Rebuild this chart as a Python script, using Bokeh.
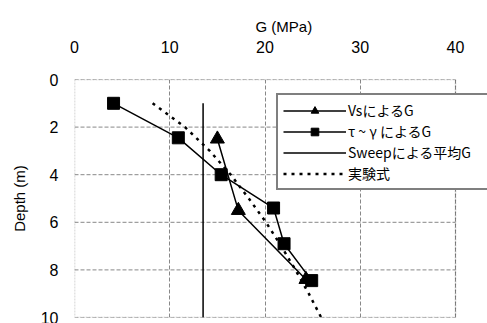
from bokeh.plotting import figure
from bokeh.models import Range1d, Legend, LegendItem, FixedTicker, BoxAnnotation
from bokeh.embed import file_html
from bokeh.resources import INLINE

# Vs-based G
vs_depth = [2.5, 5.5, 8.4]
vs_g = [15.0, 17.2, 24.3]
# tau~gamma based G
tg_depth = [1.0, 2.45, 4.0, 5.4, 6.9, 8.45]
tg_g = [4.1, 10.9, 15.4, 20.9, 22.0, 24.9]
# Sweep mean G
sw_depth = [1.0, 10.0]
sw_g = [13.5, 13.5]
# empirical formula
ex_depth = [1, 2, 3, 4, 5, 6, 7, 8, 9, 10]
ex_g = [8.2, 11.6, 14.2, 16.4, 18.3, 20.1, 21.7, 23.2, 24.6, 25.9]

x_ticks = [0, 10, 20, 30, 40]
y_ticks = [0, 2, 4, 6, 8, 10]

# plot area spans to the window edge so the legend can overhang the 0-40 box
FRAME_W = 413
BOX_W = 381
x_end = x_ticks[-1] * FRAME_W / BOX_W

p = figure(width=487, height=323, output_backend="svg", toolbar_location=None,
           x_range=Range1d(x_ticks[0], x_end), y_range=Range1d(y_ticks[-1], y_ticks[0]),
           x_axis_location="above", min_border_left=74, min_border_top=79,
           min_border_right=0, min_border_bottom=6)
p.background_fill_color = "white"
p.border_fill_color = "white"
p.outline_line_color = None

p.title.text = "G (MPa)"
p.title.align = "left"
p.title.offset = 181
p.title.text_font = "Liberation Sans"
p.title.text_font_size = "15px"
p.title.text_font_style = "normal"
p.title.text_color = "black"
p.title.standoff = 6

for ax in (p.xaxis[0], p.yaxis[0]):
    ax.axis_line_color = None
    ax.major_tick_line_color = None
    ax.minor_tick_line_color = None
    ax.major_label_text_font = "Liberation Sans"
    ax.major_label_text_font_size = "16px"
    ax.major_label_text_color = "black"
    ax.axis_label_text_font = "Liberation Sans"
    ax.axis_label_text_font_size = "15px"
    ax.axis_label_text_font_style = "normal"
    ax.axis_label_text_color = "black"
p.xaxis.ticker = FixedTicker(ticks=x_ticks)
p.yaxis.ticker = FixedTicker(ticks=y_ticks)
p.yaxis.axis_label = "Depth (m)"
p.xaxis.major_label_standoff = 21
p.yaxis.major_label_standoff = 10
p.yaxis.axis_label_standoff = 10

p.xgrid.grid_line_color = "#888888"
p.xgrid.grid_line_dash = "4 2"
p.xgrid.grid_line_width = 1
p.ygrid.grid_line_color = None

# horizontal grid lines limited to the 0-40 box
p.segment(x0=[x_ticks[0]] * len(y_ticks), x1=[x_ticks[-1]] * len(y_ticks),
          y0=y_ticks, y1=y_ticks, line_color="#888888", line_dash="4 2", line_width=1)

# plot border
p.add_layout(BoxAnnotation(left=x_ticks[0], right=x_ticks[-1], top=y_ticks[0], bottom=y_ticks[-1],
                           fill_alpha=0, line_color="#444444", line_dash="2 1", line_width=1.5))

r1l = p.line(vs_g, vs_depth, line_color="black", line_width=1.5)
r1m = p.scatter(vs_g, vs_depth, marker="triangle", size=14, fill_color="black", line_color="black")
r2l = p.line(tg_g, tg_depth, line_color="black", line_width=1.5)
r2m = p.scatter(tg_g, tg_depth, marker="square", size=12, fill_color="black", line_color="black")
r3 = p.line(sw_g, sw_depth, line_color="black", line_width=1.5)
r4 = p.line(ex_g, ex_depth, line_color="black", line_width=2.5, line_dash="3 5")

legend = Legend(items=[
    LegendItem(label="VsによるG", renderers=[r1l, r1m]),
    LegendItem(label="τ ~ γ によるG", renderers=[r2l, r2m]),
    LegendItem(label="Sweepによる平均G", renderers=[r3]),
    LegendItem(label="実験式", renderers=[r4]),
], location=(202, 127))
legend.label_text_font = "Noto Sans CJK JP"
legend.label_text_font_size = "14px"
legend.label_text_color = "black"
legend.glyph_width = 63
legend.glyph_height = 19
legend.label_height = 19
legend.label_width = 160
legend.label_standoff = 2
legend.spacing = 1
legend.padding = 5
legend.margin = 0
legend.border_line_color = "black"
legend.border_line_width = 2
legend.background_fill_alpha = 1
p.add_layout(legend, "center")

open("out.html", "w").write(file_html(p, INLINE))
